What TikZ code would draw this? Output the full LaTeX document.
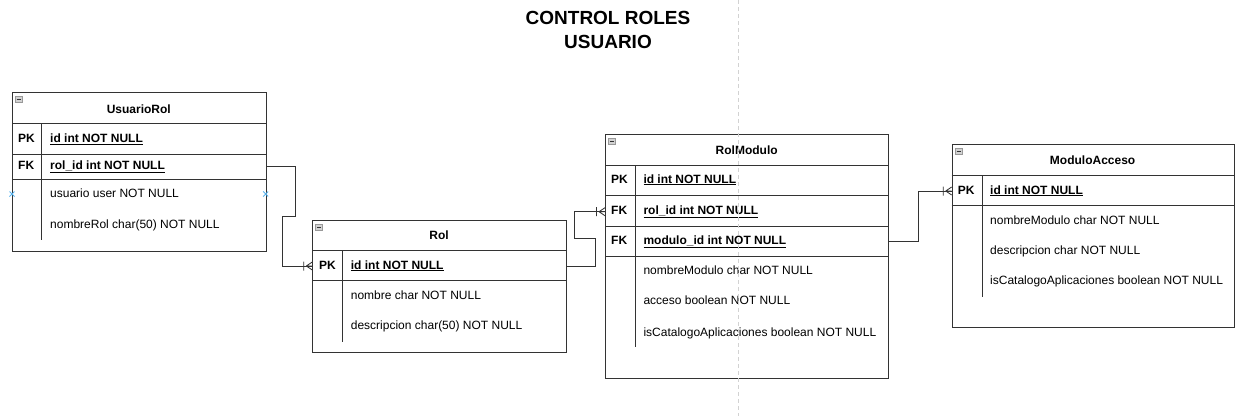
\documentclass[tikz,border=0pt]{standalone}
\usepackage{fontspec}
\setmainfont{Liberation Sans}
\usetikzlibrary{calc}
\definecolor{linec}{HTML}{333333}
\definecolor{markblue}{HTML}{5AB4EE}
\begin{document}
\begin{tikzpicture}[x=1pt,y=-1pt,
  ent/.style={draw=linec, line width=0.8pt, anchor=north west, inner sep=0pt, fill=white},
  sep/.style={draw=linec, line width=0.8pt},
  fld/.style={anchor=west, inner sep=0pt, text height=8.5pt, text depth=2.5pt, font=\fontsize{12}{14}\selectfont},
  key/.style={fld, font=\fontsize{12}{14}\selectfont\bfseries},
  ttl/.style={inner sep=0pt, font=\fontsize{12}{14}\selectfont\bfseries},
  conn/.style={draw=linec, line width=0.8pt},
  crowE/.pic={\draw[conn] (-6,0) -- (0,4) (-6,0) -- (0,-4) (-6,0) -- (0,0) (-8.5,-4.5) -- (-8.5,4.5);},
  minusicon/.pic={\draw[draw=gray!80, fill=gray!35, line width=0.5pt] (0,0) rectangle (7,6); \draw[linec, line width=0.7pt] (1.5,3) -- (5.5,3);},
  bluex/.pic={\draw[markblue, line width=0.8pt] (-2.5,-2.5) -- (2.5,2.5) (-2.5,2.5) -- (2.5,-2.5);}
]
\useasboundingbox (0,0) rectangle (1235,416);

% Title
\node[inner sep=0pt, align=center, font=\fontsize{19}{23.5}\selectfont\bfseries] (title) at (608,30) {CONTROL ROLES\\USUARIO};

% ---------------- UsuarioRol ----------------
\node[ent, minimum width=253.7pt, minimum height=158.4pt] (ur) at (12,92.3) {};
\draw[sep] (12,123.3) -- (265.7,123.3) (12,154.3) -- (265.7,154.3) (12,179) -- (265.7,179);
\draw[sep] (41.7,123.3) -- (41.7,240);
\pic at (15,96) {minusicon};
\node[ttl] (urt) at (138.8,109) {UsuarioRol};
\node[key] (urpkk) at (18,139.3) {PK};
\node[fld] (urpk) at (50,139.3) {\underline{\textbf{id int NOT NULL}}};
\node[key] (urfkk) at (18,166.7) {FK};
\node[fld] (urfk) at (50,166.7) {\underline{\textbf{rol\_id int NOT NULL}}};
\node[fld] (urf1) at (50,194.3) {usuario user NOT NULL};
\node[fld] (urf2) at (50,225) {nombreRol char(50) NOT NULL};
\pic at (12,194) {bluex};
\pic at (265.7,194) {bluex};

% ---------------- Rol ----------------
\node[ent, minimum width=253.4pt, minimum height=131.7pt] (rol) at (312.3,220) {};
\draw[sep] (312.3,250) -- (565.7,250) (312.3,280.7) -- (565.7,280.7);
\draw[sep] (342.7,250) -- (342.7,341.7);
\pic at (315.5,224) {minusicon};
\node[ttl] (rolt) at (439,235) {Rol};
\node[key] (rolpkk) at (319,266) {PK};
\node[fld] (rolpk) at (350.7,266) {\underline{\textbf{id int NOT NULL}}};
\node[fld] (rolf1) at (350.7,296) {nombre char NOT NULL};
\node[fld] (rolf2) at (350.7,326.7) {descripcion char(50) NOT NULL};

% ---------------- RolModulo ----------------
\node[ent, minimum width=283.3pt, minimum height=244pt] (rm) at (605,134.3) {};
\draw[sep] (605,165) -- (888.3,165) (605,195.7) -- (888.3,195.7) (605,226) -- (888.3,226) (605,256.7) -- (888.3,256.7);
\draw[sep] (635,165) -- (635,346.7);
\pic at (608.5,138) {minusicon};
\node[ttl] (rmt) at (746.7,150.7) {RolModulo};
\node[key] (rmpkk) at (611,180) {PK};
\node[fld] (rmpk) at (643.3,180) {\underline{\textbf{id int NOT NULL}}};
\node[key] (rmfkk) at (611,211.7) {FK};
\node[fld] (rmfk) at (643.3,211.7) {\underline{\textbf{rol\_id int NOT NULL}}};
\node[key] (rmfk2k) at (611,241.7) {FK};
\node[fld] (rmfk2) at (643.3,241.7) {\underline{\textbf{modulo\_id int NOT NULL}}};
\node[fld] (rmf1) at (643.3,271.7) {nombreModulo char NOT NULL};
\node[fld] (rmf2) at (643.3,301.7) {acceso boolean NOT NULL};
\node[fld] (rmf3) at (643.3,333.3) {isCatalogoAplicaciones boolean NOT NULL};

% ---------------- ModuloAcceso ----------------
\node[ent, minimum width=281.8pt, minimum height=183pt] (ma) at (951.7,144.3) {};
\draw[sep] (951.7,175) -- (1233.5,175) (951.7,205) -- (1233.5,205);
\draw[sep] (982.3,175) -- (982.3,297.3);
\pic at (955,148) {minusicon};
\node[ttl] (mat) at (1092.6,160) {ModuloAcceso};
\node[key] (mapkk) at (957.7,191) {PK};
\node[fld] (mapk) at (990,191) {\underline{\textbf{id int NOT NULL}}};
\node[fld] (maf1) at (990,221) {nombreModulo char NOT NULL};
\node[fld] (maf2) at (990,251.7) {descripcion char NOT NULL};
\node[fld] (maf3) at (990,281.7) {isCatalogoAplicaciones boolean NOT NULL};

% ---------------- Connectors ----------------
\coordinate (a1) at (295,216);
\coordinate (a2) at (282,266);
\draw[conn] (ur.east |- urfk) -| (a1) -| (a2) -- (rol.west |- rolpk);
\pic at (rol.west |- rolpk) {crowE};

\coordinate (b1) at (595.7,238.3);
\coordinate (b2) at (574,211.7);
\draw[conn] (rol.east |- rolpk) -| (b1) -| (b2) -- (rm.west |- rmfk);
\pic at (rm.west |- rmfk) {crowE};

\coordinate (c1) at (918.5,191);
\draw[conn] (rm.east |- rmfk2) -| (c1) -- (ma.west |- mapk);
\pic at (ma.west |- mapk) {crowE};

% dashed page divider
\coordinate (d1) at (738.3,0);
\coordinate (d2) at (738.3,416);
\draw[gray!35, line width=0.8pt, dash pattern=on 4pt off 3pt] (d1) -- (d2);
\end{tikzpicture}
\end{document}
